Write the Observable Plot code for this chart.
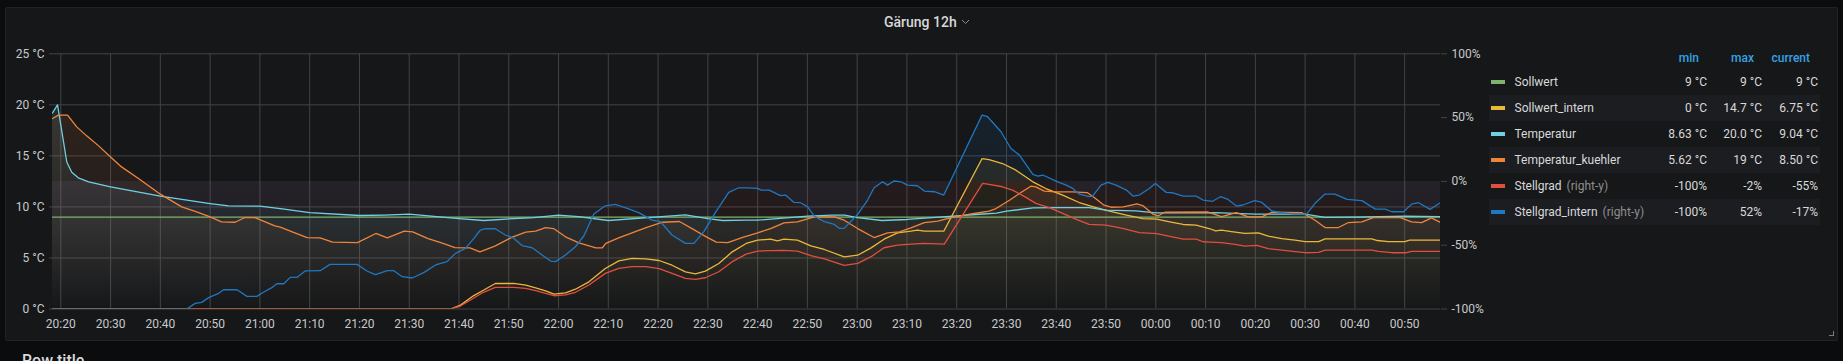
<!DOCTYPE html>
<html>
<head>
<meta charset="utf-8">
<script src="https://cdn.jsdelivr.net/npm/d3@7"></script>
<script src="https://cdn.jsdelivr.net/npm/@observablehq/plot@0.6"></script>
<style>
  html, body { margin: 0; padding: 0; background: #0b0c0e; }
  body { width: 1843px; height: 361px; overflow: hidden; position: relative; font-family: Roboto, "Noto Sans", sans-serif; }
  .panel { position: absolute; left: 5px; top: 7px; width: 1831px; height: 332px; background: #161719; border: 1px solid #202226; border-radius: 2px; }
  .abs { position: absolute; white-space: nowrap; }
  .title { font-size: 14px; font-weight: 500; color: #d8d9da; line-height: 18px; }
  .lg { font-size: 12px; color: #d8d9da; line-height: 16px; }
  .hd { font-size: 12px; color: #33a2e5; line-height: 16px; font-weight: 500; }
  .ry { color: #8e8e8e; }
  .band { position: absolute; background: #1c1d21; }
  .sw { position: absolute; width: 14px; height: 4px; }
  .rowtitle { font-size: 16px; font-weight: 500; color: #d8d9da; line-height: 20px; }
  #chart { position: absolute; left: 0; top: 0; }
</style>
</head>
<body>
<div class="panel"></div>
<div class="abs title" style="left:884px; top:13px;">Gärung 12h</div>
<svg class="abs" style="left:961px; top:19px;" width="9" height="6"><polyline points="1,1 4.5,4.5 8,1" fill="none" stroke="#8e8e8e" stroke-width="1"/></svg>
<div id="chart"></div>
<div id="legend"></div>
<div class="abs rowtitle" style="left:22px; top:351px;">Row title</div>
<div class="abs" style="left:1829px; top:331px; width:4px; height:4px; border-right:1px solid #7b7b7b; border-bottom:1px solid #7b7b7b;"></div>
<script>
// ---- Data (x = minutes after 20:20) ----
const xTickLabels = ["20:20","20:30","20:40","20:50","21:00","21:10","21:20","21:30","21:40","21:50","22:00","22:10","22:20","22:30","22:40","22:50","23:00","23:10","23:20","23:30","23:40","23:50","00:00","00:10","00:20","00:30","00:40","00:50"];
const yTicksC = [0, 5, 10, 15, 20, 25];
const yTicksPct = [-100, -50, 0, 50, 100];
const xStart = -1.67, xEnd = 277.2;

const seriesNames = ["Sollwert", "Sollwert_intern", "Temperatur", "Temperatur_kuehler", "Stellgrad", "Stellgrad_intern"];
const seriesColors = ["#7eb26d", "#eab839", "#6ed0e0", "#ef843c", "#e24d42", "#1f78c1"];
const seriesRightY = [false, false, false, false, true, true];
const legendMin = ["9 °C", "0 °C", "8.63 °C", "5.62 °C", "-100%", "-100%"];
const legendMax = ["9 °C", "14.7 °C", "20.0 °C", "19 °C", "-2%", "52%"];
const legendCurrent = ["9 °C", "6.75 °C", "9.04 °C", "8.50 °C", "-55%", "-17%"];

const sollwert = [[-1.67, 9], [277.2, 9]];

const sollwertIntern = [[-1.67,0],[78.3,0],[80.3,0.38],[82.9,1.29],[84.9,1.84],[87.3,2.5],[91,2.5],[93.4,2.34],[95.4,2.07],[97.4,1.78],[99.1,1.45],[101.4,1.58],[103.4,1.94],[106.1,2.66],[109.4,3.97],[112.1,4.72],[114.8,4.95],[117.5,4.91],[120.2,4.75],[122.8,4.29],[125.5,3.64],[127.5,3.44],[129.5,3.71],[132.2,4.46],[134.9,5.6],[137.7,6.42],[140,6.74],[142.6,6.84],[144,6.68],[145.3,6.84],[148,6.74],[150.7,6.19],[153.4,5.83],[157.4,5.11],[160.1,5.27],[162.8,5.99],[165.4,6.84],[168.1,7.46],[170.8,7.62],[172.1,7.72],[173.5,7.62],[177.4,7.62],[185.1,14.74],[186.5,14.64],[189.2,14.25],[191.9,13.6],[195.3,12.46],[197.9,11.8],[201.3,11.15],[204.6,10.43],[208,9.94],[210.7,9.58],[214.1,9.19],[217.4,8.86],[220.2,8.8],[222.8,8.54],[225.5,8.28],[228.1,8.21],[230.9,7.86],[232,7.65],[233.2,7.72],[235.2,7.59],[237.9,7.4],[240.6,7.46],[242.6,7.14],[245.3,6.9],[248,6.74],[250,6.61],[252.7,6.61],[254,6.87],[263.4,6.87],[264.5,6.71],[266.7,6.61],[270,6.61],[271,6.74],[277.2,6.74]];

const temperatur = [[-1.67,19.2],[-0.66,20.0],[1.2,14.4],[2.2,13.4],[3.5,12.85],[5.6,12.45],[10,11.97],[20,11.05],[30,10.33],[33.7,10.1],[40,10.07],[44.5,9.8],[50,9.45],[60,9.16],[65,9.2],[70,9.29],[80,8.86],[85,8.67],[91,8.86],[95,8.95],[100,9.19],[104,9.05],[110,8.67],[120,9.03],[125.5,9.22],[130,8.86],[133,8.67],[138,8.7],[140,8.7],[150,9.09],[155,9.19],[157.5,9.19],[160,8.96],[165,8.67],[170,8.77],[180,9.13],[184.5,9.28],[188,9.4],[190,9.58],[195.3,9.91],[200,9.94],[206.6,9.94],[210,9.68],[216,9.61],[220,9.42],[230,9.42],[232,9.45],[240,9.29],[250,9.29],[254,8.98],[260,9.0],[270,9.09],[277.2,9.04]];

const temperaturKuehler = [[-1.67,18.66],[-0.5,18.99],[1.35,19.0],[3.2,17.84],[5.2,16.96],[7.6,15.98],[10,14.9],[12.2,13.92],[15.6,12.78],[20,11.25],[24.3,10.0],[27.3,9.52],[30,9.03],[32.3,8.54],[35,8.5],[37,8.96],[39,8.96],[43,8.15],[44.1,8.02],[46.5,7.56],[49.5,7.0],[52.1,6.97],[54.6,6.55],[59.6,6.51],[63.3,7.4],[65.6,6.97],[69,7.62],[70.7,7.56],[73.8,6.9],[76.5,6.48],[79.2,6.02],[82.2,5.99],[84.2,5.6],[87.2,6.16],[90.7,7.04],[93.4,7.53],[95.4,7.62],[97.4,7.98],[99,7.88],[101.4,7.07],[104.1,6.48],[107.5,5.99],[108.8,6.0],[109.5,6.42],[112.2,7.0],[114.9,7.49],[117.6,7.98],[120.9,8.5],[124.3,8.57],[127,7.82],[129.7,7.07],[131.7,6.55],[134,6.51],[137,7.02],[140,7.46],[142.6,7.88],[145.3,8.44],[148,8.54],[151.4,9.03],[155.4,9.03],[157.4,8.7],[160.1,7.88],[163.4,7.0],[166.1,7.46],[168.5,7.56],[170.8,7.95],[173.5,8.47],[176.2,8.6],[178.9,8.96],[182.9,9.32],[184.5,9.43],[186.5,9.58],[187.9,9.84],[190.6,10.66],[192.9,11.41],[194.9,12.03],[195.9,11.97],[197.6,11.54],[199.9,11.48],[203.3,11.48],[206.2,11.41],[207.9,10.82],[209.6,10.17],[211,9.97],[213.5,10.0],[216.2,10.3],[217.5,10.1],[219.5,9.26],[220.5,9.13],[221.8,9.48],[230.5,9.5],[233.2,9.06],[236.2,9.45],[238.6,9.03],[241.3,9.03],[243.3,9.48],[249.3,9.45],[252,8.7],[254,7.98],[256.7,7.98],[258.7,8.47],[261.4,8.54],[263.7,8.96],[269.1,8.96],[271.4,8.54],[273.4,8.47],[275.4,8.93],[277.2,8.47]];

// right-y series, in percent
const stellgrad = [[-1.67,-100],[78.3,-100],[80.3,-97.7],[82.9,-91.6],[84.9,-86.9],[87.3,-83.0],[91,-83.0],[93.4,-83.8],[95.4,-85.6],[97.4,-87.7],[99.1,-89.6],[101.4,-89.0],[103.4,-86.9],[106.1,-81.2],[109.4,-72.1],[112.1,-68.1],[114.8,-66.8],[117.5,-66.8],[120.2,-68.4],[122.8,-72.1],[125.5,-76.0],[127.5,-76.8],[129.5,-75.5],[132.2,-70.8],[134.9,-62.9],[137.7,-57.0],[140,-54.6],[142.6,-54.3],[145.3,-54.0],[148,-54.6],[150.7,-58.2],[153.4,-60.8],[157.4,-65.8],[160.1,-64.2],[162.8,-59.0],[165.4,-52.0],[168.1,-49.9],[170.8,-49.1],[173.5,-48.6],[177.5,-49.1],[185.2,-1.6],[186.5,-2.3],[189.2,-4.2],[191.2,-6.8],[193.9,-12.5],[195.9,-17.2],[198.6,-20.6],[201.3,-25.1],[203.9,-29.5],[206.6,-33.7],[210,-34.2],[213.3,-36.8],[216.7,-40.2],[220.2,-41.0],[222.8,-43.1],[225.5,-45.2],[228.1,-45.2],[229.5,-47.3],[231,-47.6],[233.2,-48.0],[235.9,-49.3],[237.9,-50.7],[240.3,-50.1],[242.6,-52.7],[245.3,-53.8],[248,-55.1],[250,-55.9],[252.7,-55.6],[254,-53.8],[263.4,-53.8],[264.7,-54.8],[267.4,-55.9],[270.4,-55.9],[271.4,-54.8],[277.2,-54.8]];

const stellgradIntern = [[-1.67,-100],[25.3,-100],[27,-95.6],[28.3,-94.8],[29.7,-91.1],[31.7,-87.7],[32.7,-84.9],[35.4,-84.9],[37.4,-90.1],[39.4,-90.1],[40.7,-86.9],[42.4,-83.3],[43.4,-80.2],[44.8,-80.2],[46.1,-75.2],[47.5,-75.2],[49.1,-70.2],[52.1,-70.0],[54.1,-65.0],[59.5,-65.0],[61.5,-70.2],[63.2,-73.1],[65.6,-70.0],[66.9,-70.0],[68.6,-74.7],[70.6,-75.7],[73,-71.3],[75.3,-65.5],[77.6,-62.9],[79.3,-56.4],[81.3,-52.5],[83,-44.6],[84.3,-38.1],[85.3,-37.1],[87.3,-37.1],[89.3,-42.0],[91,-44.5],[92.7,-50.4],[94.7,-52.0],[96.7,-57.7],[98.4,-62.4],[99.4,-62.9],[101.4,-57.7],[103.4,-51.2],[105.1,-42.6],[107.1,-25.6],[109.4,-19.1],[111.4,-18.0],[113.8,-21.1],[116.1,-24.5],[118.8,-30.3],[120.5,-31.6],[122.8,-42.0],[125.5,-48.6],[127.2,-48.6],[129.2,-39.4],[131.5,-24.5],[134.2,-8.6],[136.2,-5.0],[138,-5.0],[140,-5.5],[140.7,-6.8],[142.3,-6.8],[144.6,-11.2],[145.6,-10.7],[147.3,-16.5],[148.6,-16.7],[150,-19.8],[151.4,-27.2],[153.4,-31.6],[155.4,-33.7],[156.4,-36.8],[157.4,-36.8],[160.1,-25.8],[162.1,-14.6],[163.4,-5.0],[165.1,-0.3],[166.1,-2.9],[167.4,0.3],[168.8,-0.3],[170.1,-2.9],[172.1,-3.4],[173.5,-7.6],[175.5,-8.1],[177.4,-10.7],[185.1,52.0],[186.2,50.7],[188.9,38.9],[190.9,25.8],[192.6,20.6],[195.3,5.5],[196.3,4.2],[197.3,5.0],[200.3,-0.3],[202,-2.9],[203.3,-5.5],[204.6,-9.9],[206.6,-12.0],[207.3,-11.5],[209,-2.9],[210.4,-0.8],[212,-2.9],[214.1,-6.8],[215.4,-11.5],[216.7,-10.7],[218.7,-5.5],[219.9,-1.6],[222.1,-8.6],[223.4,-8.9],[225.5,-11.5],[228.1,-11.5],[229.5,-14.6],[231.4,-15.6],[233,-12.0],[234.5,-14.1],[236.2,-19.3],[237.5,-18.5],[239.9,-15.1],[241.3,-16.5],[243.3,-23.2],[245.3,-24.5],[248,-25.6],[250.3,-25.6],[252,-17.2],[254,-9.9],[256,-9.9],[258.4,-14.1],[261.4,-15.1],[264.1,-21.7],[266.1,-21.7],[267.4,-23.8],[269.8,-23.8],[271.4,-17.8],[272.8,-16.7],[275.1,-21.9],[277.2,-16.7]];

const seriesData = [sollwert, sollwertIntern, temperatur, temperaturKuehler, stellgrad, stellgradIntern];

// ---- helpers: right axis (-100..100 %) shares the pixel range of the left axis (0..25 °C)
const pctToC = p => (p + 100) / 8;
const cToPct = c => Math.round(c * 8 - 100);
const labelToMin = s => { const [h, m] = s.split(":").map(Number); let t = h * 60 + m - (20 * 60 + 20); if (t < 0) t += 1440; return t; };
const xTicks = xTickLabels.map(labelToMin);

// ---- layout
const W = 1490, H = 340, mTop = 53.3, mBottom = 31.5, mLeft = 52, mRight = 50;
const gridColor = "#424346";
const textColor = "#c8c9ca";

const gradDefs = () => {
  const defs = d3.create("svg:defs");
  seriesColors.forEach((c, i) => {
    const g = defs.append("linearGradient").attr("id", "fill" + i)
      .attr("gradientUnits", "userSpaceOnUse")
      .attr("x1", 0).attr("x2", 0).attr("y1", mTop).attr("y2", H - mBottom);
    g.append("stop").attr("offset", 0).attr("stop-color", c).attr("stop-opacity", 0.15);
    g.append("stop").attr("offset", 1).attr("stop-color", c).attr("stop-opacity", 0.0);
  });
  return defs.node();
};

const areas = seriesData.map((data, i) => Plot.areaY(data, {
  x: d => d[0],
  y1: seriesRightY[i] ? pctToC(0) : 0,
  y2: d => seriesRightY[i] ? pctToC(d[1]) : d[1],
  fill: `url(#fill${i})`,
  clip: true
}));
const lines = seriesData.map((data, i) => Plot.lineY(data, {
  x: d => d[0],
  y: d => seriesRightY[i] ? pctToC(d[1]) : d[1],
  stroke: seriesColors[i],
  strokeWidth: 1.3,
  clip: true
}));

const chart = Plot.plot({
  width: W, height: H,
  marginTop: mTop, marginBottom: mBottom, marginLeft: mLeft, marginRight: mRight,
  style: { background: "transparent", color: textColor, fontFamily: "Roboto, sans-serif", fontSize: "12px", overflow: "visible" },
  x: { domain: [xStart, xEnd] },
  y: { domain: [0, 25] },
  marks: [
    gradDefs,
    Plot.gridX(xTicks, { stroke: gridColor, strokeOpacity: 1 }),
    Plot.gridY(yTicksC, { stroke: gridColor, strokeOpacity: 1 }),
    ...areas,
    ...lines,
    Plot.axisX(xTicks, { tickSize: 0, tickPadding: 10, label: null, fill: textColor, tickFormat: d => xTickLabels[xTicks.indexOf(d)] }),
    Plot.axisY(yTicksC, { anchor: "left", tickSize: 3, tickPadding: 5, label: null, stroke: gridColor, fill: textColor, tickFormat: d => d + " °C" }),
    Plot.axisY(yTicksPct.map(pctToC), { anchor: "right", tickSize: 6, tickPadding: 5, label: null, stroke: gridColor, fill: textColor, tickFormat: d => cToPct(d) + "%" })
  ]
});
document.getElementById("chart").appendChild(chart);

// ---- legend table
const legend = document.getElementById("legend");
const rowY0 = 81.7, rowH = 26;
const colRight = [1707, 1762, 1818];
function addText(cls, text, rightEdge, yc, html) {
  const d = document.createElement("div");
  d.className = "abs " + cls;
  if (html) d.innerHTML = text; else d.textContent = text;
  d.style.right = (1843 - rightEdge) + "px";
  d.style.top = (yc - 8) + "px";
  legend.appendChild(d);
}
["min", "max", "current"].forEach((h, j) => addText("hd", h, colRight[j] - 8, 58));
seriesNames.forEach((name, i) => {
  const yc = rowY0 + rowH * i;
  if (i % 2 === 1) {
    const b = document.createElement("div");
    b.className = "band";
    b.style.left = "1489px"; b.style.width = "331px";
    b.style.top = (yc - 12.8) + "px"; b.style.height = "25.7px";
    legend.appendChild(b);
  }
  const sw = document.createElement("div");
  sw.className = "sw";
  sw.style.left = "1491px"; sw.style.top = (yc - 2) + "px"; sw.style.background = seriesColors[i];
  legend.appendChild(sw);
  const n = document.createElement("div");
  n.className = "abs lg";
  n.style.left = "1514.5px"; n.style.top = (yc - 8) + "px";
  n.textContent = name;
  if (seriesRightY[i]) {
    const s = document.createElement("span");
    s.className = "ry"; s.textContent = " (right-y)";
    s.style.marginLeft = "2px";
    n.appendChild(s);
  }
  legend.appendChild(n);
  addText("lg", legendMin[i], colRight[0], yc);
  addText("lg", legendMax[i], colRight[1], yc);
  addText("lg", legendCurrent[i], colRight[2], yc);
});
</script>
</body>
</html>
